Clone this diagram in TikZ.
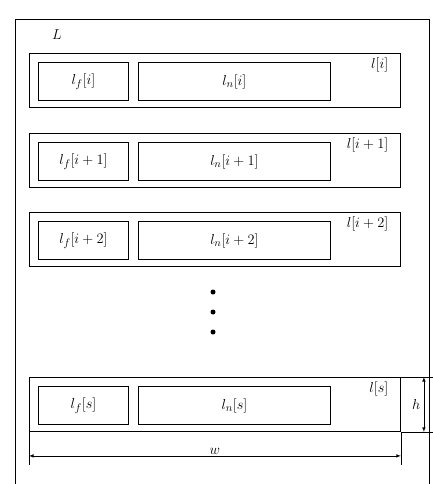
\documentclass[tikz,border=0pt]{standalone}
\usepackage{amsmath}
\usepackage{amssymb}
\usetikzlibrary{positioning, arrows, calc}
\tikzset{
    rowbox/.style={draw, line width=0.9pt, minimum width=371pt, minimum height=54pt, inner sep=0pt, anchor=north west},
    cellbox/.style={draw, line width=0.9pt, minimum height=38pt, inner sep=0pt, anchor=north west},
    dimline/.style={line width=0.6pt},
    dimarrow/.style={line width=0.6pt, <->, >=latex}
}
\begin{document}
\begin{tikzpicture}[x=1pt, y=-1pt, font=\fontsize{15}{18}\selectfont]
    \useasboundingbox (0,0) rectangle (433,484);

    % frame
    \draw[line width=1pt] (15,484) -- (15,20) -- (429,20) -- (429,484);
    \node (lbl) at (57,35) {$L$};

    % rows
    \foreach \name/\top/\idx in {
        ra/53/i,
        rb/133/i+1,
        rc/212/i+2,
        rs/377/s}{

        \node[rowbox] (\name) at (29,\top) {};
        \node[cellbox, minimum width=90pt] (\name f) at ($(\name.north west)+(9,9)$) {$l_f[\idx]$};
        \node[cellbox, minimum width=192pt] (\name n) at ($(\name.north west)+(109,9)$) {$l_n[\idx]$};
        \node[anchor=east] (\name l) at ($(\name.north east)+(-9,12)$) {$l[\idx]$};
    }

    % dots
    \foreach \y in {292,312,332}
    {
        \fill (213,\y) circle (2.5pt);
    }

    % width
    \coordinate (wa) at ($(rs.south west)+(0,33)$);
    \coordinate (wb) at ($(rs.south east)+(0,33)$);
    \draw[dimline] (rs.south west) -- (wa);
    \draw[dimline] (rs.south east) -- (wb);
    \draw[dimarrow] ($(rs.south west)+(0,24)$) -- node[above=-2pt] (wlbl) {$w$} ($(rs.south east)+(0,24)$);

    % height
    \coordinate (ha) at ($(rs.north east)+(33,0)$);
    \coordinate (hb) at ($(rs.south east)+(33,0)$);
    \draw[dimline] (rs.north east) -- (ha);
    \draw[dimline] (rs.south east) -- (hb);
    \draw[dimarrow] ($(rs.north east)+(23,0)$) -- node[left=0pt] (hlbl) {$h$} ($(rs.south east)+(23,0)$);
\end{tikzpicture}
\end{document}
